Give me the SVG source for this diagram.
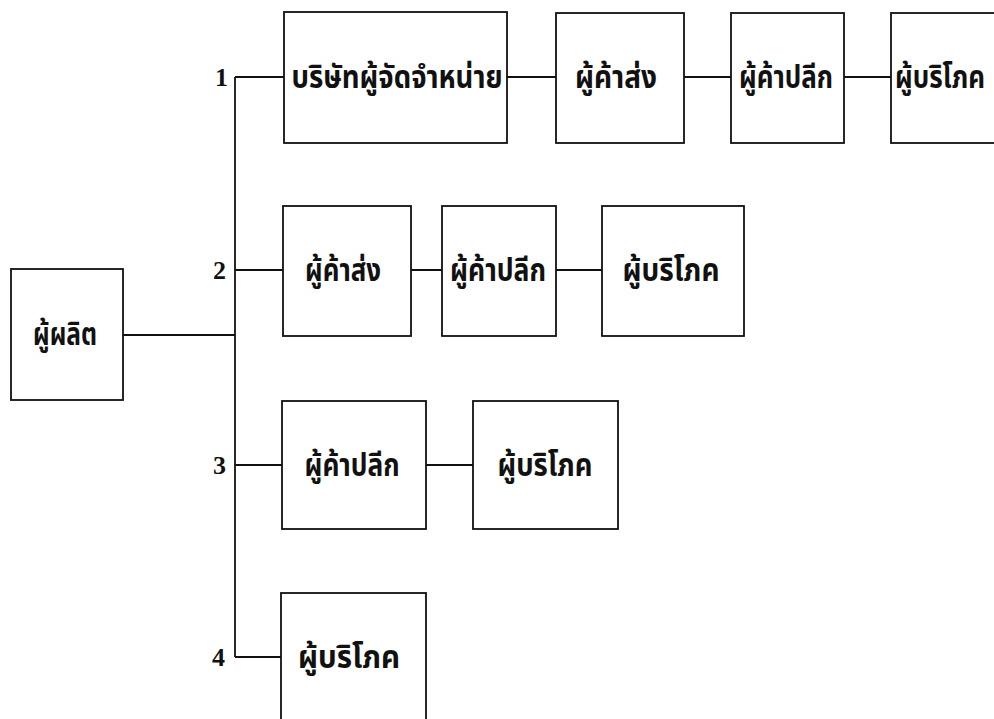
<svg xmlns="http://www.w3.org/2000/svg" width="994" height="719" viewBox="0 0 994 719">
<style>
  .box { fill: #ffffff; stroke: #111111; stroke-width: 1.8; }
  .ln { fill: none; stroke: #111111; stroke-width: 1.8; }
  .th { font-family: "Noto Sans Thai", "Noto Sans", "DejaVu Sans", sans-serif; font-weight: bold; font-size: 32px; fill: #111111; text-anchor: middle; }
  .num { font-family: "Liberation Serif", serif; font-weight: bold; font-size: 26px; fill: #111111; text-anchor: end; }
</style>
<rect x="0" y="0" width="994" height="719" fill="#ffffff"/>
<g id="connectors">
  <path class="ln" d="M235,77 V657"/>
  <path class="ln" d="M235,77 H284 M507,77 H556 M684,77 H731 M844,77 H891"/>
  <path class="ln" d="M235,270 H283 M411,270 H442 M556,270 H602"/>
  <path class="ln" d="M123,335 H235"/>
  <path class="ln" d="M235,465 H282 M426,465 H473"/>
  <path class="ln" d="M235,657 H281"/>
</g>
<g id="labels">
  <text class="num" x="228" y="86">1</text>
  <text class="num" x="226" y="279">2</text>
  <text class="num" x="226" y="474">3</text>
  <text class="num" x="225" y="666">4</text>
</g>
<g id="producer">
  <rect class="box" x="11" y="269" width="112" height="131"/>
  <text class="th" x="65" y="345" textLength="64" lengthAdjust="spacingAndGlyphs">ผู้ผลิต</text>
</g>
<g id="r1-distributor">
  <rect class="box" x="284" y="12" width="223" height="131"/>
  <text class="th" x="397" y="88" textLength="211" lengthAdjust="spacingAndGlyphs">บริษัทผู้จัดจำหน่าย</text>
</g>
<g id="r1-wholesaler">
  <rect class="box" x="556" y="13" width="128" height="130"/>
  <text class="th" x="616" y="88" textLength="82" lengthAdjust="spacingAndGlyphs">ผู้ค้าส่ง</text>
</g>
<g id="r1-retailer">
  <rect class="box" x="731" y="13" width="113" height="130"/>
  <text class="th" x="786" y="88" textLength="94" lengthAdjust="spacingAndGlyphs">ผู้ค้าปลีก</text>
</g>
<g id="r1-consumer">
  <rect class="box" x="891" y="13" width="120" height="130"/>
  <text class="th" x="940" y="88" textLength="90" lengthAdjust="spacingAndGlyphs">ผู้บริโภค</text>
</g>
<g id="r2-wholesaler">
  <rect class="box" x="283" y="206" width="128" height="130"/>
  <text class="th" x="343" y="281" textLength="76" lengthAdjust="spacingAndGlyphs">ผู้ค้าส่ง</text>
</g>
<g id="r2-retailer">
  <rect class="box" x="442" y="206" width="114" height="130"/>
  <text class="th" x="498" y="281" textLength="96" lengthAdjust="spacingAndGlyphs">ผู้ค้าปลีก</text>
</g>
<g id="r2-consumer">
  <rect class="box" x="602" y="206" width="142" height="130"/>
  <text class="th" x="671" y="281" textLength="97" lengthAdjust="spacingAndGlyphs">ผู้บริโภค</text>
</g>
<g id="r3-retailer">
  <rect class="box" x="282" y="401" width="144" height="128"/>
  <text class="th" x="352" y="476" textLength="95" lengthAdjust="spacingAndGlyphs">ผู้ค้าปลีก</text>
</g>
<g id="r3-consumer">
  <rect class="box" x="473" y="401" width="145" height="128"/>
  <text class="th" x="545" y="476" textLength="95" lengthAdjust="spacingAndGlyphs">ผู้บริโภค</text>
</g>
<g id="r4-consumer">
  <rect class="box" x="281" y="593" width="145" height="140"/>
  <text class="th" x="349" y="668" textLength="102" lengthAdjust="spacingAndGlyphs">ผู้บริโภค</text>
</g>
</svg>
